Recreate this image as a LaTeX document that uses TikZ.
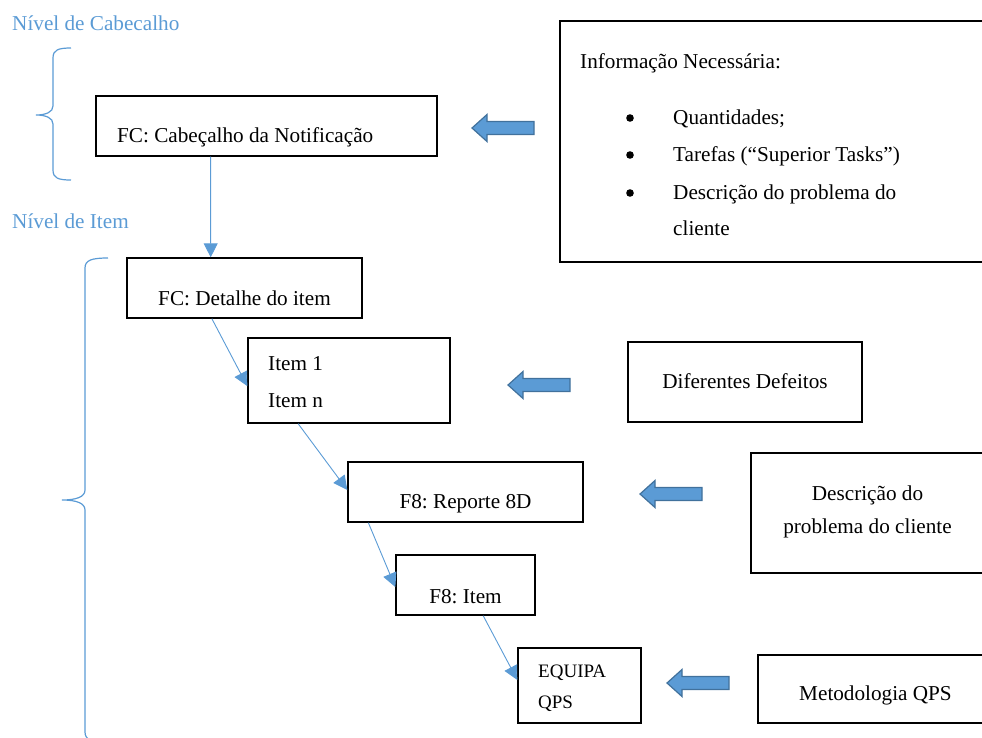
\documentclass[tikz,border=0pt]{standalone}
\usepackage{fontspec}
\setmainfont{Liberation Serif}
\usetikzlibrary{arrows.meta,calc}
\definecolor{wblue}{HTML}{5B9BD5}
\definecolor{wblueline}{HTML}{41719C}
\frenchspacing

\begin{document}
\begin{tikzpicture}[x=1pt,y=-1pt,
  box/.style={draw=black,line width=1.4pt,inner sep=0pt},
  txt/.style={inner sep=0pt,font=\fontsize{21.2}{25}\selectfont},
  smalltxt/.style={inner sep=0pt,font=\fontsize{19}{23}\selectfont},
  lvl/.style={txt,text=wblue,anchor=base west},
  conn/.style={draw=wblue,line width=0.9pt,-{Triangle[length=14pt,width=14pt]}},
  brace/.style={draw=wblue,line width=1.2pt},
  blockarrow/.style={fill=wblue,draw=wblueline,line width=1.2pt,line join=miter}]

\useasboundingbox (0,0) rectangle (982,737);
\clip (0,0) rectangle (982,737);

% level labels
\node[lvl] (lvlhdr) at (12,30) {Nível de Cabecalho};
\node[lvl] (lvlitem) at (12,228) {Nível de Item};

% braces
\draw[brace] (71,48) .. controls (58,48) and (53,50) .. (53,58) -- (53,106)
  .. controls (53,112) and (46,115) .. (36,115)
  .. controls (46,115) and (53,118) .. (53,124) -- (53,170)
  .. controls (53,178) and (58,180) .. (71,180);
\draw[brace] (108,258) .. controls (92,258) and (85,260) .. (85,268) -- (85,490)
  .. controls (85,497) and (76,500) .. (62,500)
  .. controls (76,500) and (85,503) .. (85,510) -- (85,732)
  .. controls (85,740) and (92,742) .. (108,742);

% process boxes
\node[box,minimum width=341pt,minimum height=60pt] (hdr)  at (266.5,126) {};
\node[box,minimum width=235pt,minimum height=60pt] (det)  at (244.5,288) {};
\node[box,minimum width=202pt,minimum height=85pt] (item) at (349,380.5) {};
\node[box,minimum width=235pt,minimum height=60pt] (rep)  at (465.5,492) {};
\node[box,minimum width=139pt,minimum height=60pt] (f8)   at (465.5,585) {};
\node[box,minimum width=123pt,minimum height=75pt] (eq)   at (579.5,685.5) {};

% input boxes (running off the right edge)
\node[box,minimum width=480pt,minimum height=241pt] (info) at (800,141.5) {};
\node[box,minimum width=234pt,minimum height=80pt]  (def)  at (745,382) {};
\node[box,minimum width=280pt,minimum height=120pt] (desc) at (891,513) {};
\node[box,minimum width=280pt,minimum height=68pt]  (met)  at (898,689) {};

% box texts
\node[txt,anchor=base west] (thdr) at (117,142) {FC: Cabeçalho da Notificação};
\node[txt,anchor=base] (tdet) at (244.5,305) {FC: Detalhe do item};
\node[txt,anchor=base west] (titem1) at (268,370) {Item 1};
\node[txt,anchor=base west] (titemn) at (268,407) {Item n};
\node[txt,anchor=base] (trep) at (465.5,508) {F8: Reporte 8D};
\node[txt,anchor=base] (tf8) at (465.5,603) {F8: Item};
\node[smalltxt,anchor=base west] (teq1) at (538,677) {EQUIPA};
\node[smalltxt,anchor=base west] (teq2) at (538,708) {QPS};

\node[txt,anchor=base west] (tinfo) at (580,68) {Informação Necessária:};
\fill (630,118) circle (3.8);
\fill (630,155) circle (3.8);
\fill (630,193) circle (3.8);
\node[txt,anchor=base west] (tq) at (673,124) {Quantidades;};
\node[txt,anchor=base west] (tt) at (673,161) {Tarefas (“Superior Tasks”)};
\node[txt,anchor=base west] (td) at (673,199) {Descrição do problema do};
\node[txt,anchor=base west] (tc) at (673,235) {cliente};

\node[txt,anchor=base] (tdef) at (745,388) {Diferentes Defeitos};
\node[txt,anchor=base] (tdesc1) at (867.5,500) {Descrição do};
\node[txt,anchor=base] (tdesc2) at (867.5,533) {problema do cliente};
\node[txt,anchor=base] (tmet) at (875.5,700) {Metodologia QPS};

% flow connectors
\draw[conn] ($(hdr.south west)!0.337!(hdr.south east)$) -- ($(det.north west)!0.357!(det.north east)$);
\draw[conn] ($(det.south west)!0.362!(det.south east)$) -- ($(item.north west)!0.565!(item.south west)$);
\draw[conn] ($(item.south west)!0.25!(item.south east)$) -- ($(rep.north west)!0.467!(rep.south west)$);
\draw[conn] ($(rep.south west)!0.089!(rep.south east)$) -- ($(f8.north west)!0.533!(f8.south west)$);
\draw[conn] ($(f8.south west)!0.626!(f8.south east)$) -- ($(eq.north west)!0.427!(eq.south west)$);

% block arrows pointing left
\foreach \tx/\ty in {472/128, 508/385, 640/494, 667/683}{
  \draw[blockarrow] (\tx,\ty) -- ++(15,-13.5) -- ++(0,7) -- ++(47,0) -- ++(0,13)
    -- ++(-47,0) -- ++(0,7) -- cycle;
}
\end{tikzpicture}
\end{document}
